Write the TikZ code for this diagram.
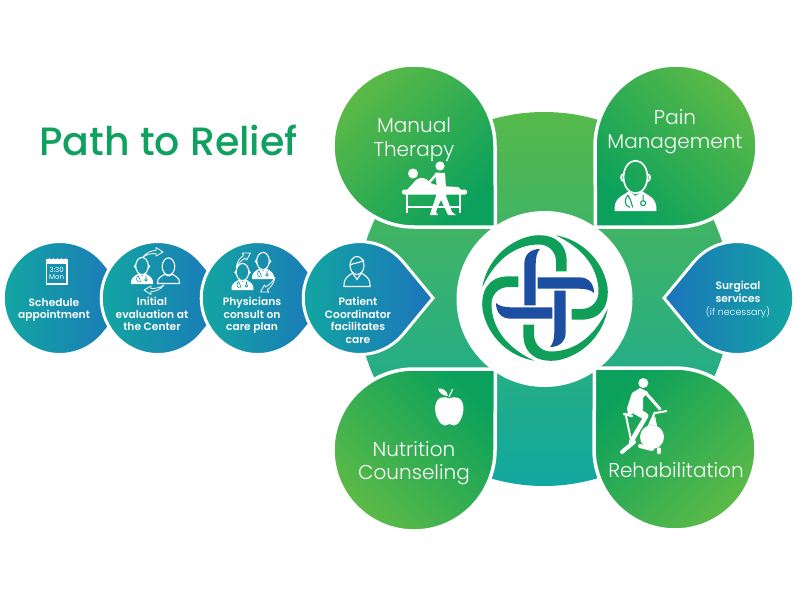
\documentclass[tikz,border=0pt]{standalone}
\usepackage{fontspec}
\setmainfont{Poppins}
\newfontfamily\lightfont{Poppins Light}
\newfontfamily\mediumfont{Poppins Medium}
\newfontfamily\semifont{Poppins SemiBold}
\usetikzlibrary{positioning}
\definecolor{titlec}{HTML}{10A060}
\definecolor{bandtop}{HTML}{56B94A}
\definecolor{bandbot}{HTML}{10A8A0}
\definecolor{petallight}{HTML}{5CBA47}
\definecolor{petaldark}{HTML}{0BA15C}
\definecolor{tealc}{HTML}{12A8A0}
\definecolor{bluec}{HTML}{1C74BC}
\definecolor{logogreen}{HTML}{0F9F59}
\definecolor{logoblue}{HTML}{1C4FA1}
\tikzset{
  bubble/.style={draw=white,line width=3pt,left color=tealc,right color=bluec},
  petal/.style={draw=white,line width=3.5pt,top color=petallight,bottom color=petaldark,shading angle=#1},
  steplabel/.style={text=white,align=center,font=\semifont\fontsize{10.7}{12.5}\selectfont,inner sep=0pt},
  petallabel/.style={text=white,align=center,font=\lightfont\fontsize{20}{23.5}\selectfont,inner sep=0pt},
  iconline/.style={white,line width=1.1pt},
  stethline/.style={line width=.6pt},
  pics/doctorpic/.style={code={
    \draw[iconline] (0,0) ellipse [x radius=6.3pt,y radius=8.6pt]; % head
    \draw[iconline] (-6.2,-1.5) .. controls (-8.2,-1.5) and (-8.2,2) .. (-5.8,2.5) (6.2,-1.5) .. controls (8.2,-1.5) and (8.2,2) .. (5.8,2.5); % ears
    \fill[white] (-11,18) .. controls (-11.5,11) and (-7,10) .. (-3.5,7.5) -- (0,10) -- (3.5,7.5) .. controls (7,10) and (11.5,11) .. (11,18) -- cycle; % shoulders
    \draw[#1,stethline] (-4,9.5) .. controls (-6,12) and (-6,15) .. (-3,16) (-4,9.5) .. controls (-2.5,12) and (-2,14) .. (-1.5,16) (4,9.5) -- (4,12.5) (4,13.8) circle [radius=1.3pt]; % stethoscope
  }},
  pics/patientpic/.style={code={
    \draw[iconline] (0,0) ellipse [x radius=6.3pt,y radius=8.6pt]; % head
    \draw[iconline] (-3.5,7.5) .. controls (-7,10) and (-11.5,11) .. (-11,17) -- (11,17) .. controls (11.5,11) and (7,10) .. (3.5,7.5) .. controls (2,10) and (-2,10) .. cycle; % shoulders
  }},
  pics/swaparrow/.style={code={
    \draw[white,line width=.8pt,line join=round] (-10,3) .. controls (-6,-2) and (-1,-3.5) .. (3,-3.5) -- (3,-6.5) -- (10,-2) -- (3,2) -- (3,-.5) .. controls (-1,-.5) and (-6,0) .. cycle;
  }}
}
\begin{document}
\begin{tikzpicture}[x=1pt,y=-1pt]
 \useasboundingbox (0,0) rectangle (800,600);
 \node[text=titlec,font=\mediumfont\fontsize{39.5}{44}\selectfont,inner sep=0pt] (title) at (168.5,140) {Path to Relief};
 % background band and the four petals
 \shade[top color=bandtop,bottom color=bandbot] (544,299) circle [radius=187pt];
 \path[petal=45] (414,227) -- (495.5,227) -- (495,146) arc [start angle=0,end angle=270,radius=81pt] -- cycle; % manual therapy
 \path[petal=-45] (595.5,227) -- (595,146) arc [start angle=180,end angle=-90,radius=81pt] -- cycle; % pain management
 \path[petal=135] (495.5,369) -- (414,369) arc [start angle=90,end angle=360,radius=81pt] -- cycle; % nutrition
 \path[petal=-135] (594.5,368) -- (675,368) arc [start angle=90,end angle=-180,radius=81pt] -- cycle; % rehabilitation
 % logo
 \fill[white] (544.5,299) circle [radius=88pt];
 \foreach \r in {0,90,180,270}
 {\begin{scope}[shift={(545,298)},rotate=\r]
   \fill[logogreen] (-62.7,-10.7) arc [start angle=170.3,end angle=102,radius=63.6pt] .. controls (5,-65) and (21.7,-58) .. (21.7,-36) -- (21.7,-26.7) -- (11,-26.7) -- (11,-36) .. controls (11,-48) and (2,-53.5) .. (-6,-53.5) .. controls (-30,-53.5) and (-50,-38) .. cycle;
   \fill[logoblue] (-20.7,7.3) -- (-9.3,7.3) -- (-9.3,-33) .. controls (-9.3,-41) and (-8,-46) .. (-5,-49) .. controls (-14,-49) and (-20.7,-44) .. (-20.7,-34) -- cycle;
  \end{scope}}
 % steps on the left
 \foreach \c in {60,158,258,360}
 {\path[bubble] (\c+73,298) -- (\c+43,298-36.3) arc [start angle=40,end angle=320,radius=56.5pt] -- cycle;}
 \path[bubble,left color=bluec,right color=tealc] (664,298) -- (737-43,298-36.3) arc [start angle=140,end angle=-140,radius=56.5pt] -- cycle;
 % texts
 \node[steplabel] (schedule) at (54,310) {Schedule\\appointment};
 \node[steplabel] (initial) at (152,314) {Initial\\evaluation at\\the Center};
 \node[steplabel] (physicians) at (252,315.5) {Physicians\\consult on\\care plan};
 \node[steplabel] (patient) at (358,320.5) {Patient\\Coordinator\\facilitates\\care};
 \node[steplabel] (surgical) at (738,292) {Surgical\\services};
 \node[text=white,inner sep=0pt,font=\lightfont\fontsize{9.5}{11}\selectfont,below=4pt of surgical.south] (necessary) {(if necessary)};
 \node[petallabel] (manual) at (414,139.5) {Manual\\Therapy};
 \node[petallabel] (pain) at (675,131.5) {Pain\\Management};
 \node[petallabel] (nutrition) at (414,463) {Nutrition\\Counseling};
 \node[petallabel] (rehab) at (676,470) {Rehabilitation};
 % calendar
 \draw[iconline] (46.5,260) rectangle (67,284);
 \fill[white] (46.5,260) rectangle (67,264);
 \foreach \x in {49.5,53.5,57.5,61.5,65}
 {\draw[white,line width=.8pt] (\x,258) -- (\x,261);}
 \node[text=white,align=center,inner sep=0pt,font=\fontsize{7}{7.5}\selectfont] (clock) at (56.7,273.5) {3:30\\Mon};
 % people in the steps
 \pic at (142,266) {doctorpic=tealc!60!bluec};
 \pic at (168.5,266.5) {patientpic};
 \pic at (153,254) {swaparrow};
 \pic[rotate=180] at (154,288) {swaparrow};
 \pic at (242.5,272) {doctorpic=tealc!60!bluec};
 \pic at (263,261) {doctorpic=tealc!40!bluec};
 \pic[rotate=32] at (243,260) {swaparrow};
 \pic[rotate=212] at (268,285) {swaparrow};
 % coordinator
 \draw[iconline] (357,265.5) ellipse [x radius=7pt,y radius=9pt];
 \draw[iconline] (350,265) .. controls (353,263) and (361,263) .. (364,260);
 \draw[iconline] (352.5,273) .. controls (349,276) and (343.5,277) .. (344,286.5) -- (370,286.5) .. controls (370.5,277) and (365,276) .. (361.5,273) -- (357,279.5) -- cycle;
 % pain management doctor
 \begin{scope}[iconline/.style={white,line width=1.7pt},stethline/.style={line width=1.1pt}]
  \pic[scale=1.9] at (635.5,177) {doctorpic=petaldark};
 \end{scope}
 % apple
 \fill[white] (449.5,398.5) .. controls (445,396) and (436,395.5) .. (435,408) .. controls (435,416) and (440,425.5) .. (445,425.5) .. controls (447,425.5) and (448,424) .. (449.5,424) .. controls (451,424) and (452,425.5) .. (454,425.5) .. controls (459,425.5) and (463.5,416) .. (463.5,408) .. controls (463,396) and (454,396) .. cycle;
 \fill[white] (438,388.5) .. controls (443,387.5) and (447,391) .. (448,396) .. controls (443,396) and (439,393) .. cycle;
 \draw[white,line width=1.2pt] (449,397) -- (452.7,389);
 % massage table
 \fill[white,rounded corners=2pt] (402,189.5) rectangle (467,194.5);
 \draw[white,line width=1.2pt] (407,194) -- (407,213) (460,194) -- (460,213) (407,207) -- (460,207);
 \fill[white] (413,173.5) circle [radius=5pt] (440,166) circle [radius=4.6pt];
 \fill[white] (407,190) -- (415,181) .. controls (420,176) and (426,177) .. (430,183) -- (440,186) -- (458,187) -- (461,190) -- cycle;
 \fill[white] (435,172.5) -- (445,173) -- (446,188) -- (446,196) -- (452,212) -- (456,215) -- (448,215) -- (441,200) -- (438,206) -- (436,212) -- (438,215) -- (430,215) -- (431,211) -- (436,196) -- (437,188) -- cycle;
 \draw[white,line width=2.4pt,line cap=round] (436.5,174) -- (428,184);
 % exercise bike
 \fill[white] (643.3,383) circle [radius=5pt];
 \fill[white] (640,388) -- (632,393) -- (627,408) -- (628,415) -- (643,410) -- (643,398) -- (648,392) -- cycle;
 \draw[white,line width=3pt,line cap=round] (645,392) -- (660,409);
 \draw[white,line width=7pt,line cap=round] (634,410) -- (645,416);
 \draw[white,line width=4.5pt,line cap=round] (645,418) -- (631,442);
 \draw[white,line width=2.5pt,line cap=round] (624,414) -- (632,416);
 \draw[white,line width=2pt] (626,416) -- (632,445) (655,412) -- (647,430) (655,413) -- (667,411);
 \fill[white] (652,437) circle [radius=12pt];
 \fill[white] (649,424) -- (655,416) -- (657,426) -- cycle;
 \draw[white,line width=4pt,line cap=round] (622,452) -- (634,442) (640,446) -- (652,449);
 \draw[white,line width=3.5pt,line cap=round] (659,449) -- (659,452.5);
\end{tikzpicture}
\end{document}
